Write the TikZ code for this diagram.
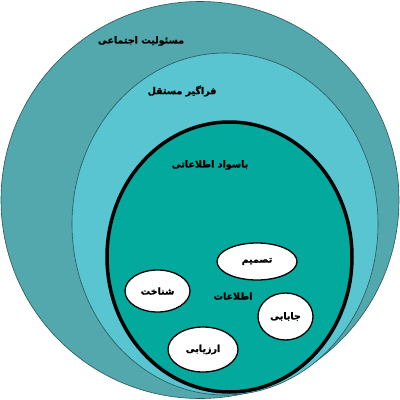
\documentclass[tikz,border=0pt]{standalone}
\usepackage{fontspec}
\usetikzlibrary{shapes.geometric}
\TeXXeTstate=1
\newfontfamily\arabicfont[Script=Arabic, BoldFont={DejaVu Sans Bold}, BoldFeatures={FakeBold=1.2}]{DejaVu Sans}
\definecolor{outerc}{HTML}{52A8AC}
\definecolor{midc}{HTML}{58C5D0}
\definecolor{innerc}{HTML}{02A99C}
\definecolor{edgec}{HTML}{2A5558}
\tikzset{
  ring/.style={shape=ellipse, inner sep=0pt, draw=edgec, line width=0.6pt},
  bubble/.style={shape=ellipse, inner sep=0pt, draw=black, line width=1.3pt, fill=white, font=\arabicfont\bfseries\fontsize{9.5}{10}\selectfont},
  lbl/.style={font=\arabicfont\bfseries\fontsize{9.5}{10}\selectfont, inner sep=0pt}
}
\begin{document}
\begin{tikzpicture}[x=1pt,y=-1pt]
\useasboundingbox (0,0) rectangle (400,400);
\node[ring, fill=outerc, minimum width=398pt, minimum height=397pt] (outer) at (200,200) {};
\node[ring, fill=midc, minimum width=306pt, minimum height=342pt] (mid) at (225,224) {};
\node[shape=ellipse, inner sep=0pt, draw=black, line width=3.5pt, fill=innerc, minimum width=245pt, minimum height=270pt] (inner) at (229.5,257) {};
\node[lbl] (t1) at (141,41) {\beginR مسئولیت اجتماعی\endR};
\node[lbl] (t2) at (182,91) {\beginR فراگیر مستقل\endR};
\node[lbl] (t3) at (210,165) {\beginR باسواد اطلاعاتی\endR};
\node[lbl] (t4) at (233,296) {\beginR اطلاعات\endR};
\node[bubble, minimum width=80pt, minimum height=37pt] (b1) at (257,261.5) {\beginR تصمیم\endR};
\node[bubble, minimum width=65pt, minimum height=42pt] (b2) at (157.5,291) {\beginR شناخت\endR};
\node[bubble, minimum width=55pt, minimum height=47pt] (b3) at (285.5,316.5) {\beginR جابابی\endR};
\node[bubble, minimum width=70pt, minimum height=45pt] (b4) at (203,349.5) {\beginR ارزیابی\endR};
\end{tikzpicture}
\end{document}
